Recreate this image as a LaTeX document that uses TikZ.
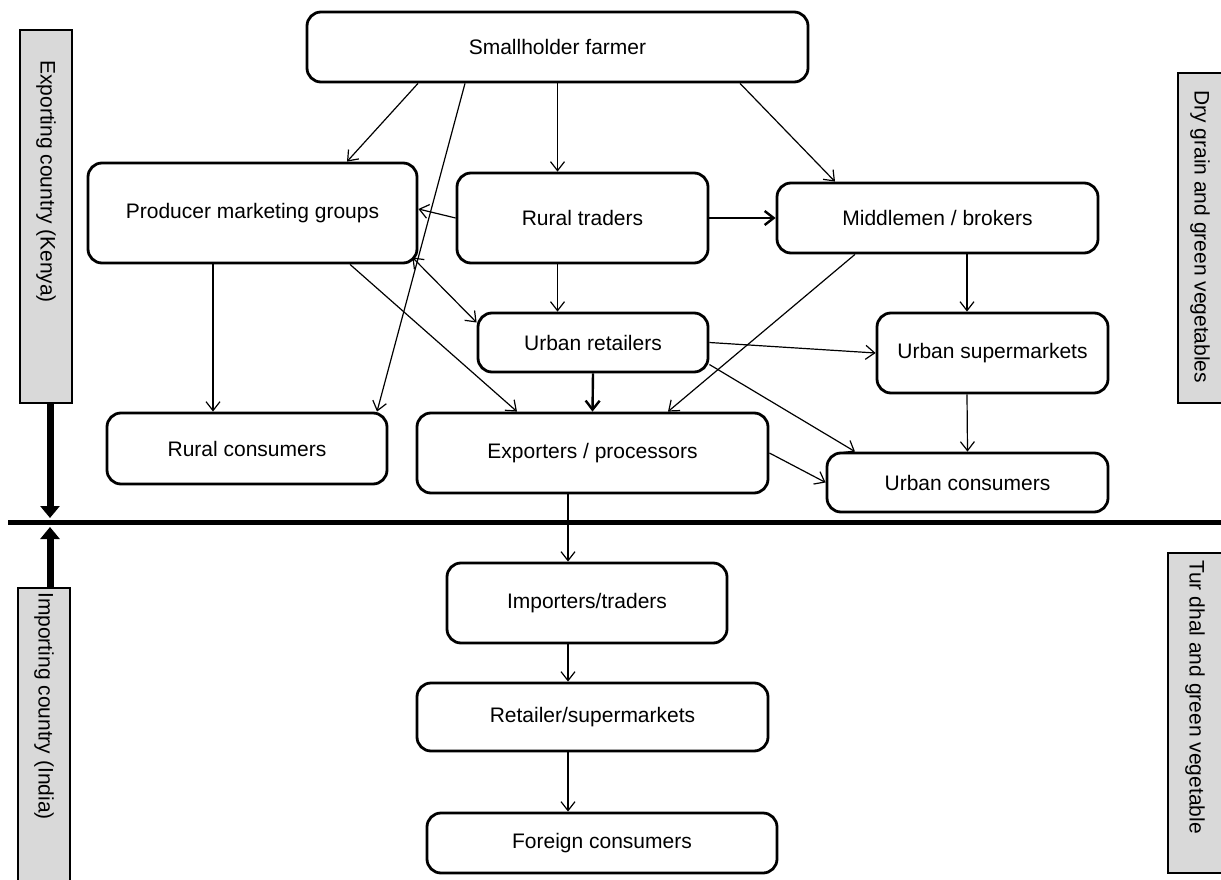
\documentclass[tikz,border=0pt]{standalone}
\usepackage{fontspec}
\setmainfont{Liberation Sans}
\usetikzlibrary{arrows.meta}
\begin{document}
\begin{tikzpicture}[x=1pt,y=-1pt,
  box/.style={draw, line width=2.8pt, rounded corners=14pt, inner sep=0pt, font=\fontsize{21}{25}\selectfont},
  arr/.style={line width=1.2pt, -{Straight Barb[length=9pt,width=14pt]}},
  darr/.style={line width=1.2pt, {Straight Barb[length=9pt,width=14pt]}-{Straight Barb[length=9pt,width=14pt]}},
  tarr/.style={line width=2.4pt, -{Straight Barb[length=9pt,width=14pt]}},
  bigarr/.style={line width=7pt, -{Triangle[length=12pt,width=19pt]}},
  sidebox/.style={draw, fill=black!15, line width=1.3pt, inner sep=0pt},
  sidetext/.style={rotate=-90, anchor=west, inner sep=0pt, font=\fontsize{21}{25}\selectfont}]
\useasboundingbox (0,0) rectangle (1221,880);

% side boxes
\node[sidebox, minimum width=52pt, minimum height=373pt] (kenya) at (46,216.5) {};
\node[sidetext] (kenyatext) at (46,60) {Exporting country (Kenya)};
\node[sidebox, minimum width=52pt, minimum height=300pt] (india) at (44,738) {};
\node[sidetext] (indiatext) at (44,592) {Importing country (India)};
\node[sidebox, minimum width=46pt, minimum height=330pt] (dry) at (1201,238) {};
\node[sidetext] (drytext) at (1200,90) {Dry grain and green vegetables};
\node[sidebox, minimum width=56pt, minimum height=320pt] (tur) at (1196,713) {};
\node[sidetext] (turtext) at (1195,560) {Tur dhal and green vegetable};

% divider
\coordinate (lineL) at (8,522);
\coordinate (lineR) at (1225,522);
\draw[line width=5pt] (lineL) -- (lineR);
\coordinate (ktip) at (50,518);
\coordinate (itip) at (50,527);
\coordinate (ibase) at (50,588);
\draw[bigarr] ([xshift=4pt]kenya.south) -- (ktip);
\draw[bigarr] (ibase) -- (itip);

% boxes
\node[box, minimum width=501pt, minimum height=70pt] (farmer) at (557.5,47) {Smallholder farmer};
\node[box, minimum width=329pt, minimum height=100pt] (pmg) at (252.5,213) {Producer marketing groups};
\node[box, minimum width=251pt, minimum height=90pt] (rt) at (582.5,218) {Rural traders};
\node[box, minimum width=321pt, minimum height=70pt] (mid) at (937.5,218) {Middlemen / brokers};
\node[box, minimum width=230pt, minimum height=59pt] (ur) at (593,342.5) {Urban retailers};
\node[box, minimum width=231pt, minimum height=80pt] (us) at (992.5,353) {Urban supermarkets};
\node[box, minimum width=280pt, minimum height=71pt] (rc) at (247,448.5) {Rural consumers};
\node[box, minimum width=351pt, minimum height=80pt] (exp) at (592.5,453) {Exporters / processors};
\node[box, minimum width=281pt, minimum height=59pt] (uc) at (967.5,482.5) {Urban consumers};
\node[box, minimum width=280pt, minimum height=80pt] (imp) at (587,603) {Importers/traders};
\node[box, minimum width=351pt, minimum height=68pt] (ret) at (592.5,717) {Retailer/supermarkets};
\node[box, minimum width=350pt, minimum height=60pt] (fc) at (602,843) {Foreign consumers};

% connectors
\draw[arr] ([xshift=-139.5pt]farmer.south) -- ([xshift=94.5pt]pmg.north);
\draw[arr] ([xshift=-92.5pt]farmer.south) -- ([xshift=130pt]rc.north);
\draw[arr] (farmer.south) -- ([xshift=-25pt]rt.north);
\draw[arr] ([xshift=182.5pt]farmer.south) -- ([xshift=-102.5pt]mid.north);
\draw[arr] (rt.west) -- ([yshift=4pt]pmg.east);
\draw[tarr] (rt.east) -- (mid.west);
\draw[darr] ([xshift=-6pt,yshift=7pt]pmg.south east) -- ([yshift=20pt]ur.west);
\draw[arr] ([xshift=-39.5pt]pmg.south) -- ([xshift=-34pt]rc.north);
\draw[arr] ([xshift=97.5pt]pmg.south) -- ([xshift=-75.5pt]exp.north);
\draw[arr] ([xshift=-25pt]rt.south) -- ([xshift=-35.5pt]ur.north);
\draw[tarr] (ur.south) -- (exp.north);
\draw[arr] (ur.east) -- (us.west);
\draw[arr] ([yshift=-22pt]ur.east) -- ([xshift=-112.5pt]uc.north);
\draw[arr] ([xshift=-82.5pt]mid.south) -- ([xshift=75.5pt]exp.north);
\draw[arr] ([xshift=29.5pt]mid.south) -- ([xshift=-25.5pt]us.north);
\draw[arr] ([xshift=-25.5pt]us.south) -- (uc.north);
\draw[arr] (exp.east) -- (uc.west);
\draw[arr] ([xshift=-24.5pt]exp.south) -- ([xshift=-19pt]imp.north);
\draw[arr] ([xshift=-19pt]imp.south) -- ([xshift=-24.5pt]ret.north);
\draw[arr] ([xshift=-24.5pt]ret.south) -- ([xshift=-34pt]fc.north);
\end{tikzpicture}
\end{document}
